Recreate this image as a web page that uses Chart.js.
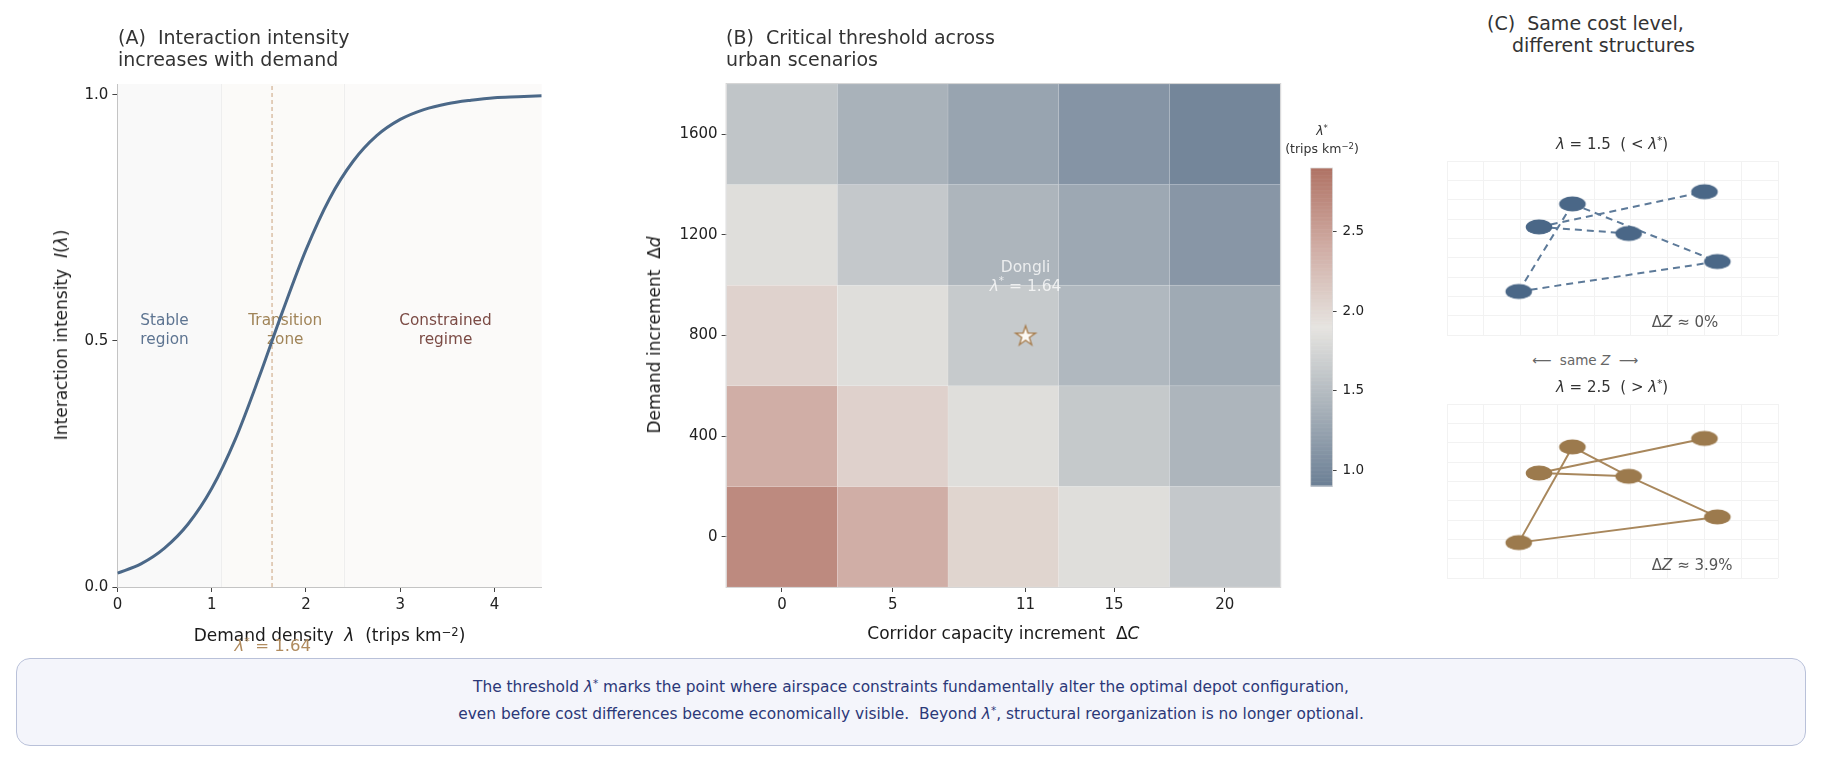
<!DOCTYPE html>
<html>
<head>
<meta charset="utf-8">
<script src="https://cdn.jsdelivr.net/npm/chart.js@4.4.1/dist/chart.umd.min.js"></script>
<style>
html,body{margin:0;padding:0;background:#fff;}
body{width:1821px;height:761px;position:relative;overflow:hidden;font-family:"DejaVu Sans",sans-serif;}
canvas{position:absolute;}
.t{position:absolute;white-space:pre;}
.c{position:absolute;white-space:pre;transform:translate(-50%,-50%);}
.title{font-size:19px;color:#333;line-height:21.5px;}
.ax{font-size:17px;color:#1a1a1a;}
i{font-style:italic;}
sup{font-size:68%;vertical-align:0.45em;line-height:0;}
.box{position:absolute;left:16px;top:658px;width:1790px;height:88px;box-sizing:border-box;border:1.5px solid #b9c1d9;border-radius:14px;background:#f4f5fb;}
.cap{font-size:15.4px;color:#2b3878;}
</style>
</head>
<body>
<canvas id="cA" width="600" height="660" style="left:0;top:0"></canvas>
<canvas id="cB" width="700" height="660" style="left:600px;top:0"></canvas>
<canvas id="cCB" width="110" height="420" style="left:1290px;top:100px"></canvas>
<canvas id="cC1" width="421" height="200" style="left:1400px;top:150px"></canvas>
<canvas id="cC2" width="421" height="200" style="left:1400px;top:393px"></canvas>

<div class="t title" style="left:118px;top:27px">(A)  Interaction intensity
increases with demand</div>
<div class="t title" style="left:726px;top:27px">(B)  Critical threshold across
urban scenarios</div>
<div class="t title" style="left:1487px;top:13px">(C)  Same cost level,</div>
<div class="t title" style="left:1512px;top:34.5px">different structures</div>

<div class="c ax" style="left:61px;top:335px;transform:translate(-50%,-50%) rotate(-90deg)">Interaction intensity  <i>I</i>(<i>λ</i>)</div>
<div class="c ax" style="left:329.5px;top:635px">Demand density  <i>λ</i>  (trips km<sup>−2</sup>)</div>
<div class="c" style="left:272.8px;top:645px;font-size:16.5px;color:#b08b5e"><i>λ</i><sup>*</sup> = 1.64</div>

<div class="c ax" style="left:654px;top:335px;transform:translate(-50%,-50%) rotate(-90deg)">Demand increment  Δ<i>d</i></div>
<div class="c ax" style="left:1003.4px;top:633px">Corridor capacity increment  Δ<i>C</i></div>
<div class="c" style="left:1322px;top:130px;font-size:12.5px;color:#333"><i>λ</i><sup>*</sup></div>
<div class="c" style="left:1322px;top:148px;font-size:12.5px;color:#333">(trips km<sup>−2</sup>)</div>

<div class="c" style="left:1612px;top:144px;font-size:15px;color:#333"><i>λ</i> = 1.5  ( &lt; <i>λ</i><sup>*</sup>)</div>
<div class="c" style="left:1585px;top:360px;font-size:13.5px;color:#666">⟵  same <i>Z</i>  ⟶</div>
<div class="c" style="left:1612px;top:387px;font-size:15px;color:#333"><i>λ</i> = 2.5  ( &gt; <i>λ</i><sup>*</sup>)</div>

<div class="box"></div>
<div class="c cap" style="left:911px;top:687px">The threshold <i>λ</i><sup>*</sup> marks the point where airspace constraints fundamentally alter the optimal depot configuration,</div>
<div class="c cap" style="left:911px;top:714px">even before cost differences become economically visible.  Beyond <i>λ</i><sup>*</sup>, structural reorganization is no longer optional.</div>

<script>
// ================= DATA =================
// Panel A
const lamX = [0,0.25,0.5,0.75,1,1.25,1.5,1.75,2,2.25,2.5,2.75,3,3.25,3.5,3.75,4,4.25,4.5];
const intensity = [0.028,0.047,0.079,0.128,0.200,0.300,0.425,0.559,0.685,0.789,0.865,0.917,0.950,0.970,0.982,0.989,0.994,0.996,0.998];
const xTicksA = [0,1,2,3,4];
const yTicksA = [0,0.5,1.0];
const lamStar = 1.64;
const regionEdges = [0,1.1,2.4,4.5];
const regionNames = [['Stable','region'],['Transition','zone'],['Constrained','regime']];
const regionLabelX = [0.5,1.78,3.48];
const regionLabelY = 0.522;

// Panel B
const capCells = [0,5,10,15,20];
const demandCells = [0,400,800,1200,1600];
const capTicks = [0,5,11,15,20];
const demandTicks = [0,400,800,1200,1600];
// rows follow demandCells, columns follow capCells
const lambdaD0    = [2.70,2.39,2.04,1.84,1.62];
const lambdaD400  = [2.39,2.07,1.84,1.63,1.43];
const lambdaD800  = [2.06,1.84,1.64,1.46,1.32];
const lambdaD1200 = [1.84,1.62,1.43,1.30,1.13];
const lambdaD1600 = [1.59,1.40,1.26,1.11,0.97];
const lambdaGrid = [lambdaD0,lambdaD400,lambdaD800,lambdaD1200,lambdaD1600];
const dongliPoint = {x:11, y:800};
const dongliLabelY = 1030;
const cbTicks = [1.0,1.5,2.0,2.5];
const cbMin = 0.9, cbMax = 2.9;
const cmapVals = [0.9,1.4,1.9,2.4,2.9];

// Panel C
const nodeX     = [7.00,3.41,2.50,4.94,7.35,1.95];
const nodeYLow  = [7.41,6.78,5.59,5.25,3.80,2.25];
const nodeYHigh = [7.22,6.78,5.43,5.26,3.16,1.83];
const edgesLow  = [[5,1],[1,4],[2,0],[2,3],[5,4]];
const edgesHigh = [[5,1],[1,3],[3,4],[2,0],[2,3],[5,4]];
const dzLow = '0%', dzHigh = '3.9%';
const dzPos = {x:5.57, y:0.6};

// ================= STYLE =================
const FONT = '"DejaVu Sans"';
Chart.defaults.font.family = 'DejaVu Sans';
const cmapColors = ['#6b7f95','#a9b2ba','#e6e4e0','#d0ada5','#b07365'];
const bandColors = ['#f9f9f9','#fbfaf8','#fbfaf9'];
const regionColors = ['#5d7491','#a08458','#7b4b45'];

function hex2rgb(h){return [parseInt(h.slice(1,3),16),parseInt(h.slice(3,5),16),parseInt(h.slice(5,7),16)];}
function cmap(v){
  v = Math.max(cmapVals[0], Math.min(cmapVals[cmapVals.length-1], v));
  for(let i=0;i<cmapVals.length-1;i++){
    if(v<=cmapVals[i+1]){
      const t=(v-cmapVals[i])/(cmapVals[i+1]-cmapVals[i]);
      const a=hex2rgb(cmapColors[i]), b=hex2rgb(cmapColors[i+1]);
      return 'rgb('+a.map((c,k)=>Math.round(c+(b[k]-c)*t)).join(',')+')';
    }
  }
}
function fontFor(p,size){return (p.it?'italic ':'')+(p.sup?(size*0.68).toFixed(1):size)+'px '+FONT;}
function drawRich(ctx,parts,x,y,size,color,align){
  let total=0;
  parts.forEach(p=>{ctx.font=fontFor(p,size);total+=ctx.measureText(p.t).width;});
  let cx = align==='center'? x-total/2 : x;
  ctx.save();
  ctx.textBaseline='middle';ctx.textAlign='left';ctx.fillStyle=color;
  parts.forEach(p=>{ctx.font=fontFor(p,size);ctx.fillText(p.t,cx,y+(p.sup?-size*0.38:0));cx+=ctx.measureText(p.t).width;});
  ctx.restore();
}
const fixTicks = arr => s => { s.ticks = arr.map(v=>({value:v})); };
const baseOpts = {responsive:false, animation:false, events:[], plugins:{legend:{display:false},tooltip:{enabled:false}}};

// ================= PANEL A =================
const bandsPlugin = {
  id:'bands',
  beforeDraw(chart){
    const {ctx,chartArea:a,scales:{x}} = chart;
    ctx.save();
    for(let i=0;i<bandColors.length;i++){
      const x0=x.getPixelForValue(regionEdges[i]), x1=x.getPixelForValue(regionEdges[i+1]);
      ctx.fillStyle=bandColors[i]; ctx.fillRect(x0,a.top,x1-x0,a.bottom-a.top);
    }
    ctx.strokeStyle='#eeeeee'; ctx.lineWidth=1;
    [regionEdges[1],regionEdges[2]].forEach(v=>{const px=Math.round(x.getPixelForValue(v))+0.5;ctx.beginPath();ctx.moveTo(px,a.top);ctx.lineTo(px,a.bottom);ctx.stroke();});
    ctx.restore();
  },
  beforeDatasetsDraw(chart){
    const {ctx,scales:{x,y}} = chart;
    regionNames.forEach((lines,i)=>{
      const px=x.getPixelForValue(regionLabelX[i]), py=y.getPixelForValue(regionLabelY);
      drawRich(ctx,[{t:lines[0]}],px,py-9.5,15.3,regionColors[i],'center');
      drawRich(ctx,[{t:lines[1]}],px,py+9.5,15.3,regionColors[i],'center');
    });
  }
};
new Chart(document.getElementById('cA'),{
  type:'scatter',
  data:{datasets:[
    {data:lamX.map((v,i)=>({x:v,y:intensity[i]})),showLine:true,borderColor:'#4b6888',borderWidth:3,pointRadius:0,cubicInterpolationMode:'monotone',order:0},
    {data:[{x:lamStar,y:0},{x:lamStar,y:1.022}],showLine:true,borderColor:'#c9a27c',borderWidth:1,borderDash:[4,3],pointRadius:0,order:1}
  ]},
  options:Object.assign({},baseOpts,{
    layout:{padding:{left:0,top:84,right:58.3,bottom:23}},
    scales:{
      x:{type:'linear',min:0,max:4.5,afterBuildTicks:fixTicks(xTicksA),afterFit:s=>{s.height=50;},
         grid:{drawOnChartArea:false,drawTicks:true,tickLength:5,tickColor:'#444'},border:{color:'#c4c4c4'},
         ticks:{font:{size:15},color:'#222',padding:4,callback:v=>String(v)}},
      y:{type:'linear',min:0,max:1.022,afterBuildTicks:fixTicks(yTicksA),afterFit:s=>{s.width=117.4;},
         grid:{drawOnChartArea:false,drawTicks:true,tickLength:5,tickColor:'#444'},border:{color:'#c4c4c4'},
         ticks:{font:{size:15},color:'#222',padding:4,callback:v=>v.toFixed(1)}}
    }
  }),
  plugins:[bandsPlugin]
});

// ================= PANEL B =================
function starImg(){
  const c=document.createElement('canvas');c.width=26;c.height=26;const g=c.getContext('2d');
  const R=10.5,r=4.0,cx=13,cy=13.8;
  g.beginPath();
  for(let i=0;i<10;i++){const ang=-Math.PI/2+i*Math.PI/5;const rr=i%2?r:R;const px=cx+rr*Math.cos(ang),py=cy+rr*Math.sin(ang);i?g.lineTo(px,py):g.moveTo(px,py);}
  g.closePath();g.fillStyle='#fcf9f4';g.fill();g.strokeStyle='#a67c4c';g.lineWidth=1.3;g.stroke();
  return c;
}
const heatPlugin = {
  id:'heat',
  beforeDatasetsDraw(chart){
    const {ctx,chartArea:a,scales:{x,y}} = chart;
    ctx.save();
    const hw=(capCells[1]-capCells[0])/2, hh=(demandCells[1]-demandCells[0])/2;
    demandCells.forEach((d,j)=>{
      capCells.forEach((c,i)=>{
        const x0=x.getPixelForValue(c-hw),x1=x.getPixelForValue(c+hw);
        const y0=y.getPixelForValue(d+hh),y1=y.getPixelForValue(d-hh);
        ctx.fillStyle=cmap(lambdaGrid[j][i]);
        ctx.fillRect(x0,y0,x1-x0,y1-y0);
        ctx.strokeStyle='rgba(255,255,255,0.2)';ctx.lineWidth=0.6;ctx.strokeRect(x0,y0,x1-x0,y1-y0);
      });
    });
    ctx.strokeStyle='#d6d6d6';ctx.lineWidth=1;
    ctx.strokeRect(a.left-0.5,a.top-0.5,a.right-a.left+1,a.bottom-a.top+1);
    ctx.restore();
  },
  afterDatasetsDraw(chart){
    const {ctx,scales:{x,y}} = chart;
    const px=x.getPixelForValue(dongliPoint.x), py=y.getPixelForValue(dongliLabelY);
    const col='rgba(250,250,250,0.82)';
    drawRich(ctx,[{t:'Dongli'}],px,py-9.5,15.5,col,'center');
    drawRich(ctx,[{t:'λ',it:true},{t:'*',sup:true},{t:' = 1.64'}],px,py+9.5,15.5,col,'center');
  }
};
new Chart(document.getElementById('cB'),{
  type:'scatter',
  data:{datasets:[{data:[dongliPoint],pointStyle:starImg(),pointRadius:11}]},
  options:Object.assign({},baseOpts,{
    layout:{padding:{left:0,top:84,right:19.8,bottom:23}},
    scales:{
      x:{type:'linear',min:capCells[0]-2.5,max:capCells[4]+2.5,afterBuildTicks:fixTicks(capTicks),afterFit:s=>{s.height=50;},
         grid:{drawOnChartArea:false,drawTicks:true,tickLength:5,tickColor:'#444'},border:{display:false},
         ticks:{font:{size:15},color:'#222',padding:4,callback:v=>String(v)}},
      y:{type:'linear',min:demandCells[0]-200,max:demandCells[4]+200,afterBuildTicks:fixTicks(demandTicks),afterFit:s=>{s.width=126.6;},
         grid:{drawOnChartArea:false,drawTicks:true,tickLength:5,tickColor:'#444'},border:{display:false},
         ticks:{font:{size:15},color:'#222',padding:4,callback:v=>String(v)}}
    }
  }),
  plugins:[heatPlugin]
});

// colorbar
const cbPlugin = {
  id:'cb',
  beforeDatasetsDraw(chart){
    const {ctx,chartArea:a,scales:{y}} = chart;
    ctx.save();
    const step=0.005;
    for(let v=cbMin; v<cbMax; v+=step){
      const y0=y.getPixelForValue(Math.min(v+step,cbMax)), y1=y.getPixelForValue(v);
      ctx.fillStyle=cmap(v+step/2);ctx.fillRect(a.left,y0,a.right-a.left,y1-y0+0.6);
    }
    ctx.strokeStyle='#dddddd';ctx.lineWidth=0.8;ctx.strokeRect(a.left,a.top,a.right-a.left,a.bottom-a.top);
    ctx.restore();
  }
};
new Chart(document.getElementById('cCB'),{
  type:'scatter',data:{datasets:[]},
  options:Object.assign({},baseOpts,{
    layout:{padding:{left:20.7,top:68,right:22.4,bottom:34}},
    scales:{
      x:{display:false,min:0,max:1},
      y:{type:'linear',position:'right',min:cbMin,max:cbMax,afterBuildTicks:fixTicks(cbTicks),afterFit:s=>{s.width=45;},
         grid:{drawOnChartArea:false,drawTicks:true,tickLength:4,tickColor:'#444'},border:{display:false},
         ticks:{font:{size:13.5},color:'#222',padding:6,callback:v=>v.toFixed(1)}}
    }
  }),
  plugins:[cbPlugin]
});

// ================= PANEL C =================
function ellipseImg(color){
  const c=document.createElement('canvas');c.width=30;c.height=18;const g=c.getContext('2d');
  g.fillStyle=color;g.beginPath();g.ellipse(15,9,13.3,7.5,0,0,Math.PI*2);g.fill();return c;
}
function netChart(id,ys,edges,nodeColor,edgeColor,dash,dz){
  const ds=edges.map(e=>({data:[{x:nodeX[e[0]],y:ys[e[0]]},{x:nodeX[e[1]],y:ys[e[1]]}],showLine:true,borderColor:edgeColor,borderWidth:2,borderDash:dash,pointRadius:0,order:1}));
  ds.push({data:nodeX.map((v,i)=>({x:v,y:ys[i]})),pointStyle:ellipseImg(nodeColor),pointRadius:10,order:0});
  const dzPlugin={id:'dz'+id,afterDatasetsDraw(chart){
    const {ctx,scales:{x,y}}=chart;
    drawRich(ctx,[{t:'Δ'},{t:'Z',it:true},{t:' ≈ '+dz}],x.getPixelForValue(dzPos.x),y.getPixelForValue(dzPos.y),15,'#555','left');
  }};
  const ax={type:'linear',min:0,max:9,ticks:{display:false,stepSize:1},grid:{color:'#f2f2f2',lineWidth:1,drawTicks:false},border:{display:false}};
  new Chart(document.getElementById(id),{
    type:'scatter',data:{datasets:ds},
    options:Object.assign({},baseOpts,{
      layout:{padding:{left:47,top:10,right:43,bottom:15}},
      scales:{x:Object.assign({},ax,{afterFit:s=>{s.height=0;}}),y:Object.assign({},ax,{afterFit:s=>{s.width=0;}})}
    }),
    plugins:[dzPlugin]
  });
}
netChart('cC1',nodeYLow,edgesLow,'#4a6787','#5d7a99',[7,5],dzLow);
netChart('cC2',nodeYHigh,edgesHigh,'#9c7a4d','#a8875c',[],dzHigh);
</script>
</body>
</html>
